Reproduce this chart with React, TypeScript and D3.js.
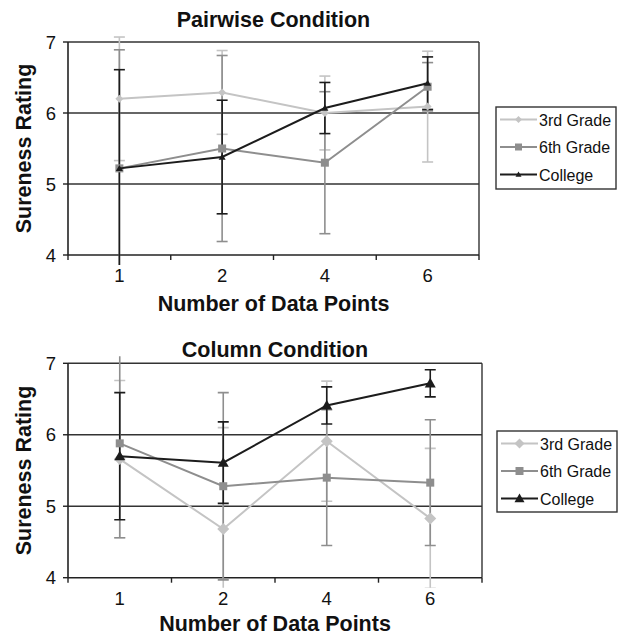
import React from "react";
import * as d3 from "d3";

const categories = ["1", "2", "4", "6"];
const seriesNames = ["3rd Grade", "6th Grade", "College"];
const yTicks = [4, 5, 6, 7];

const pairwise3rd = [6.2, 6.29, 6.0, 6.09];
const pairwise3rdErr = [0.87, 0.59, 0.52, 0.78];
const pairwise6th = [5.22, 5.5, 5.3, 6.37];
const pairwise6thErr = [1.67, 1.31, 1.0, 0.34];
const pairwiseCollege = [5.22, 5.38, 6.07, 6.42];
const pairwiseCollegeErr = [1.39, 0.8, 0.36, 0.37];

const column3rd = [5.66, 4.68, 5.91, 4.83];
const column3rdErr = [1.1, 1.42, 0.84, 0.98];
const column6th = [5.88, 5.28, 5.4, 5.33];
const column6thErr = [1.32, 1.31, 0.95, 0.88];
const columnCollege = [5.7, 5.61, 6.41, 6.72];
const columnCollegeErr = [0.89, 0.57, 0.26, 0.19];

const colors = ["#c4c4c4", "#8e8e8e", "#1c1c1c"];
const shapes = ["diamond", "square", "triangle"];
const FONT = "'Liberation Sans', Arial, sans-serif";

function markerPath(shape: string, x: number, y: number, r: number) {
  if (shape === "diamond") {
    return `M${x},${y - r}L${x + r},${y}L${x},${y + r}L${x - r},${y}Z`;
  }
  if (shape === "square") {
    return `M${x - r},${y - r}H${x + r}V${y + r}H${x - r}Z`;
  }
  return `M${x},${y - r}L${x + r},${y + r * 0.75}L${x - r},${y + r * 0.75}Z`;
}

type ChartProps = {
  id: string;
  title: string;
  values: number[][];
  errs: number[][];
  left: number;
  right: number;
  top: number;
  bottom: number;
  titleY: number;
  xLabelOffset: number;
  legendX: number;
  legendY: number;
  legendW: number;
  legendH: number;
  markerR: number[];
  legendR: number[];
};

function Chart(p: ChartProps) {
  const x = d3.scaleBand<string>().domain(categories).range([p.left, p.right]).paddingInner(0).paddingOuter(0);
  const y = d3.scaleLinear().domain([4, 7]).range([p.bottom, p.top]);
  const bw = x.bandwidth();
  const cx = (c: string) => (x(c) as number) + bw / 2;
  const line = d3
    .line<number>()
    .x((_, i) => cx(categories[i]))
    .y((d) => y(d));
  const boundaries = d3.range(categories.length + 1).map((i) => p.left + i * bw);
  const midX = (p.left + p.right) / 2;
  const midY = (p.top + p.bottom) / 2;
  const cap = 5.5;
  return (
    <g>
      <defs>
        <clipPath id={p.id}>
          <rect x={p.left - 10} y={p.top - 7} width={p.right - p.left + 20} height={p.bottom - p.top + 17} />
        </clipPath>
      </defs>
      <text x={midX} y={p.titleY} textAnchor="middle" fontFamily={FONT} fontWeight="bold" fontSize={21.5} fill="#111">
        {p.title}
      </text>
      {yTicks.slice(1).map((t) => (
        <line key={t} x1={p.left} x2={p.right} y1={y(t)} y2={y(t)} stroke="#333" strokeWidth={1.4} />
      ))}
      <line x1={p.right} x2={p.right} y1={p.top} y2={p.bottom} stroke="#333" strokeWidth={1.4} />
      <line x1={p.left} x2={p.left} y1={p.top} y2={p.bottom} stroke="#222" strokeWidth={1.6} />
      <line x1={p.left} x2={p.right} y1={p.bottom} y2={p.bottom} stroke="#222" strokeWidth={1.6} />
      {yTicks.map((t) => (
        <g key={t}>
          <line x1={p.left - 5} x2={p.left} y1={y(t)} y2={y(t)} stroke="#222" strokeWidth={1.4} />
          <text x={p.left - 12} y={y(t) + 6.5} textAnchor="end" fontFamily={FONT} fontSize={18.5} fill="#111">
            {t}
          </text>
        </g>
      ))}
      {boundaries.map((b, i) => (
        <line key={i} x1={b} x2={b} y1={p.bottom} y2={p.bottom + 5} stroke="#222" strokeWidth={1.4} />
      ))}
      {categories.map((c) => (
        <text key={c} x={cx(c)} y={p.bottom + 27} textAnchor="middle" fontFamily={FONT} fontSize={18.5} fill="#111">
          {c}
        </text>
      ))}
      <text
        x={midX}
        y={p.bottom + p.xLabelOffset}
        textAnchor="middle"
        fontFamily={FONT}
        fontWeight="bold"
        fontSize={21.5}
        fill="#111"
      >
        Number of Data Points
      </text>
      <text
        transform={`translate(${30.5},${midY}) rotate(-90)`}
        textAnchor="middle"
        fontFamily={FONT}
        fontWeight="bold"
        fontSize={21.5}
        fill="#111"
      >
        Sureness Rating
      </text>
      <g clipPath={`url(#${p.id})`}>
        {p.values.map((vals, s) =>
          vals.map((v, i) => {
            const xx = cx(categories[i]);
            const hi = y(v + p.errs[s][i]);
            const lo = y(v - p.errs[s][i]);
            return (
              <g key={`${s}-${i}`} stroke={colors[s]} strokeWidth={1.6}>
                <line x1={xx} x2={xx} y1={hi} y2={lo} />
                <line x1={xx - cap} x2={xx + cap} y1={hi} y2={hi} />
                <line x1={xx - cap} x2={xx + cap} y1={lo} y2={lo} />
              </g>
            );
          })
        )}
      </g>
      {p.values.map((vals, s) => (
        <g key={s}>
          <path d={line(vals) || ""} fill="none" stroke={colors[s]} strokeWidth={2} />
          {vals.map((v, i) => (
            <path key={i} d={markerPath(shapes[s], cx(categories[i]), y(v), p.markerR[s])} fill={colors[s]} />
          ))}
        </g>
      ))}
      <rect x={p.legendX} y={p.legendY} width={p.legendW} height={p.legendH} fill="#fff" stroke="#333" strokeWidth={1.4} />
      {seriesNames.map((n, s) => {
        const ey = p.legendY + 12.5 + s * 27.5;
        return (
          <g key={n}>
            <line x1={p.legendX + 4} x2={p.legendX + 41} y1={ey} y2={ey} stroke={colors[s]} strokeWidth={2.2} />
            <path d={markerPath(shapes[s], p.legendX + 22.5, ey, p.legendR[s])} fill={colors[s]} />
            <text x={p.legendX + 43} y={ey + 6} fontFamily={FONT} fontSize={16} fill="#111">
              {n}
            </text>
          </g>
        );
      })}
    </g>
  );
}

export default function App() {
  return (
    <svg width={618} height={637} style={{ position: "absolute", left: 0, top: 0, background: "#fff" }}>
      <rect width={618} height={637} fill="#fff" />
      <Chart
        id="clipTop"
        title="Pairwise Condition"
        values={[pairwise3rd, pairwise6th, pairwiseCollege]}
        errs={[pairwise3rdErr, pairwise6thErr, pairwiseCollegeErr]}
        left={68}
        right={479}
        top={42}
        bottom={255}
        titleY={27}
        xLabelOffset={56}
        legendX={496}
        legendY={107}
        legendW={120}
        legendH={82}
        markerR={[4, 4, 3.5]}
        legendR={[3.5, 3.5, 3]}
      />
      <Chart
        id="clipBottom"
        title="Column Condition"
        values={[column3rd, column6th, columnCollege]}
        errs={[column3rdErr, column6thErr, columnCollegeErr]}
        left={68}
        right={482}
        top={363.3}
        bottom={577.7}
        titleY={357}
        xLabelOffset={53}
        legendX={497}
        legendY={431}
        legendW={120}
        legendH={81}
        markerR={[6, 4, 5.5]}
        legendR={[5, 4, 5]}
      />
    </svg>
  );
}
